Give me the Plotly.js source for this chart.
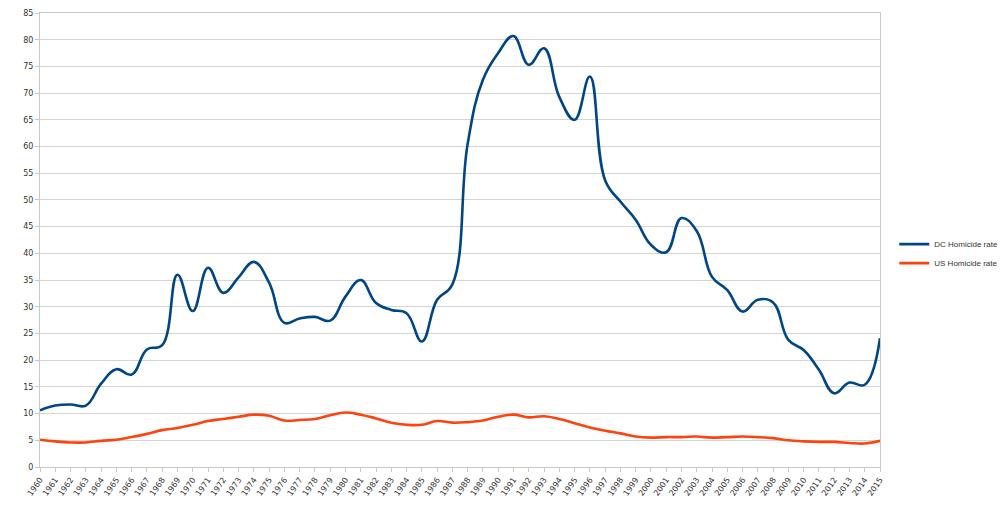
<!DOCTYPE html>
<html>
<head>
<meta charset="utf-8">
<script src="https://cdn.plot.ly/plotly-3.0.1.min.js"></script>
<style>html,body{margin:0;padding:0;background:#fff;}#chart{width:1000px;height:508px;}</style>
</head>
<body>
<div id="chart"></div>
<script>
const years = [];
for (let y = 1960; y <= 2015; y++) years.push(y);
const dcRate = [10.6, 11.5, 11.7, 11.5, 15.6, 18.3, 17.3, 22.0, 22.8, 36.0,
  29.2, 37.3, 32.6, 35.5, 38.4, 34.5, 27.0, 27.8, 28.1, 27.4,
  31.9, 35.0, 30.7, 29.4, 28.8, 23.5, 31.3, 34.2, 60.5, 72.5,
  77.5, 80.7, 75.3, 78.4, 69.3, 65.0, 73.1, 53.7, 49.7, 46.3,
  41.6, 40.2, 46.6, 44.2, 35.6, 33.1, 29.1, 31.3, 30.8, 23.8,
  21.9, 18.2, 13.8, 15.8, 15.4, 24.1];
const usRate = [5.1, 4.8, 4.6, 4.6, 4.9, 5.1, 5.6, 6.2, 6.9, 7.3,
  7.9, 8.6, 9.0, 9.4, 9.8, 9.6, 8.7, 8.8, 9.0, 9.7,
  10.2, 9.8, 9.1, 8.3, 7.9, 7.9, 8.6, 8.3, 8.4, 8.7,
  9.4, 9.8, 9.3, 9.5, 9.0, 8.2, 7.4, 6.8, 6.3, 5.7,
  5.5, 5.6, 5.6, 5.7, 5.5, 5.6, 5.7, 5.6, 5.4, 5.0,
  4.8, 4.7, 4.7, 4.5, 4.4, 4.9];
const seriesNames = ['DC Homicide rate', 'US Homicide rate'];
const yTicks = [];
for (let v = 0; v <= 85; v += 5) yTicks.push(v);

const traces = [
  {x: years, y: dcRate, name: seriesNames[0], type: 'scatter', mode: 'lines',
   line: {color: '#004586', width: 2.6, shape: 'spline', smoothing: 1.2}},
  {x: years, y: usRate, name: seriesNames[1], type: 'scatter', mode: 'lines',
   line: {color: '#ff420e', width: 2.6, shape: 'spline', smoothing: 1.2}}
];
const fontFam = 'DejaVu Sans, Liberation Sans, sans-serif';
const layout = {
  width: 1000, height: 508,
  margin: {l: 40, r: 120, t: 13, b: 41, autoexpand: false},
  paper_bgcolor: '#ffffff', plot_bgcolor: '#ffffff',
  font: {family: fontFam, size: 8, color: '#333333'},
  showlegend: true,
  legend: {x: 1.017, y: 0.47, xanchor: 'left', yanchor: 'middle',
    font: {family: 'Liberation Sans, Arial, sans-serif', size: 8, color: '#333333'},
    itemwidth: 30, tracegroupgap: 0, bgcolor: 'rgba(0,0,0,0)'},
  xaxis: {type: 'linear', range: [1960, 2015], tickmode: 'array', tickvals: years,
    ticktext: years.map(String), tickangle: -55,
    tickfont: {family: fontFam, size: 8, color: '#333333'},
    showgrid: false, zeroline: false, showline: true, linecolor: '#c8c8c8', linewidth: 1,
    mirror: true, ticks: 'outside', ticklen: 4, tickcolor: '#c8c8c8'},
  yaxis: {range: [0, 85], tickmode: 'array', tickvals: yTicks,
    tickfont: {family: fontFam, size: 8, color: '#333333'},
    showgrid: true, gridcolor: '#d4d4d4', gridwidth: 1, zeroline: false,
    showline: true, linecolor: '#c8c8c8', linewidth: 1, mirror: true,
    ticks: 'outside', ticklen: 4, tickcolor: '#c8c8c8'}
};
Plotly.newPlot('chart', traces, layout, {displayModeBar: false, staticPlot: true});
</script>
</body>
</html>
